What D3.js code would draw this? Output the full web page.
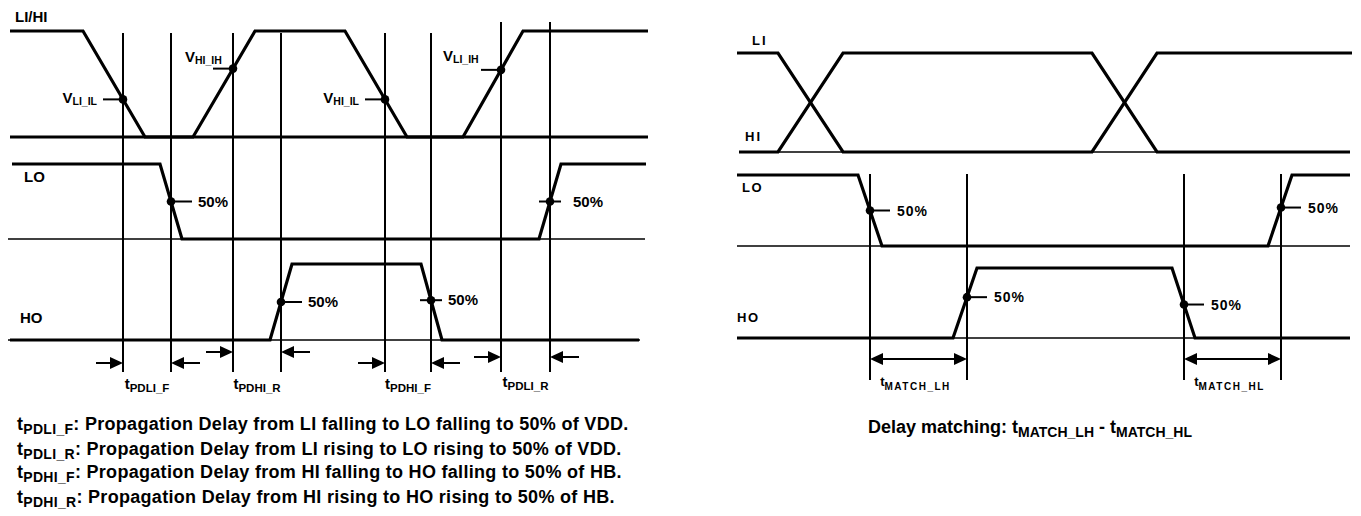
<!DOCTYPE html>
<html><head><meta charset="utf-8">
<script src="https://cdn.jsdelivr.net/npm/d3@7"></script>
<style>
body{margin:0;background:#fff}
svg{display:block;background:#fff}
text{font-family:"Liberation Sans",Arial,Helvetica,sans-serif;font-weight:bold;fill:#000}
</style></head>
<body><svg id="c" width="1361" height="516"></svg>
<script>
// ================= DATA =================
// Left diagram: propagation delay (time units, level 0 = low, 1 = high)
const leftTimeDomain = [0, 640];
const LI_left = [[2,1],[75,1],[137,0],[455,0],[515,1],[640,1]];
const HI_left = [[2,0],[185,0],[247,1],[337,1],[399,0],[640,0]];
const LO_left = [[4,1],[152,1],[174,0],[531,0],[553,1],[638,1]];
const HO_left = [[2,0],[262,0],[284,1],[413,1],[434,0],[631,0]];
const markerTimesLeft   = [115, 225, 377, 493, 163, 542, 273, 423];
const markerSignalsLeft = ["LI","HI","HI","LI","LO","LO","HO","HO"];
const markerLabelsLeft  = [["V","LI_IL"],["V","HI_IH"],["V","HI_IL"],["V","LI_IH"],["50%"],["50%"],["50%"],["50%"]];
const delayPairsLeft  = [[115,163],[225,273],[377,423],[493,542]];
const delaySubsLeft   = ["PDLI_F","PDHI_R","PDHI_F","PDLI_R"];
const legendSubs  = ["PDLI_F","PDLI_R","PDHI_F","PDHI_R"];
const legendTexts = [
  ": Propagation Delay from LI falling to LO falling to 50% of VDD.",
  ": Propagation Delay from LI rising to LO rising to 50% of VDD.",
  ": Propagation Delay from HI falling to HO falling to 50% of HB.",
  ": Propagation Delay from HI rising to HO rising to 50% of HB."
];

// Right diagram: delay matching
const rightTimeDomain = [0, 616];
const LI_right = [[1,1],[42,1],[107,0],[356,0],[421,1],[616,1]];
const HI_right = [[3,0],[42,0],[107,1],[356,1],[421,0],[614,0]];
const LO_right = [[1,1],[122,1],[146,0],[532,0],[556,1],[614,1]];
const HO_right = [[1,0],[217,0],[241,1],[436,1],[459,0],[614,0]];
const markerTimesRight   = [134, 545, 231, 448];
const markerSignalsRight = ["LO","LO","HO","HO"];
const matchPairsRight = [[134,231],[448,545]];
const matchSubsRight  = ["MATCH_LH","MATCH_HL"];
const captionRight = ["Delay matching: ", "MATCH_LH", " - ", "MATCH_HL"];

// ================= HELPERS =================
const svg = d3.select("#c");
function levelAt(w, t){
  for(let i=0;i<w.length-1;i++){
    const [t0,v0]=w[i],[t1,v1]=w[i+1];
    if(t>=t0 && t<=t1){ return t1===t0?v0:v0+(v1-v0)*(t-t0)/(t1-t0); }
  }
  return w[w.length-1][1];
}
function wave(g, w, x, y, width){
  g.append("path").datum(w)
    .attr("d", d3.line().x(d=>x(d[0])).y(d=>y(d[1])))
    .attr("fill","none").attr("stroke","#000").attr("stroke-width",width)
    .attr("stroke-linejoin","miter");
}
function hline(g,x1,x2,y,w){ g.append("line").attr("x1",x1).attr("x2",x2).attr("y1",y).attr("y2",y).attr("stroke","#000").attr("stroke-width",w); }
function vline(g,x,y1,y2,w){ g.append("line").attr("x1",x).attr("x2",x).attr("y1",y1).attr("y2",y2).attr("stroke","#000").attr("stroke-width",w); }
function head(g, x, y, dir){ // dir=+1 points right, -1 points left
  g.append("path").attr("d",`M${x},${y}L${x-dir*13},${y-6}L${x-dir*13},${y+6}Z`).attr("fill","#000");
}
function richText(g, x, y, parts, anchor){
  const t = g.append("text").attr("x",x).attr("y",y).attr("text-anchor",anchor||"start");
  parts.forEach(p=>{
    const ts=t.append("tspan").text(p.s).attr("font-size",p.size);
    if(p.dy) ts.attr("dy",p.dy);
    if(p.ls) ts.attr("letter-spacing",p.ls);
  });
  return t;
}

// ================= LEFT DIAGRAM =================
const L = svg.append("g");
const xL = d3.scaleLinear().domain(leftTimeDomain).range([8,648]);
const rowL = {
  LI: d3.scaleLinear().domain([0,1]).range([137,31]),
  HI: d3.scaleLinear().domain([0,1]).range([137,31]),
  LO: d3.scaleLinear().domain([0,1]).range([239,164]),
  HO: d3.scaleLinear().domain([0,1]).range([340,264])
};
const wavesL = {LI:LI_left, HI:HI_left, LO:LO_left, HO:HO_left};

const sortedL = markerTimesLeft.slice().sort((a,b)=>a-b);
sortedL.forEach((t,i)=>vline(L, xL(t), i>=6?22:33, 372, 2));
hline(L, xL(0), xL(637), rowL.LO(0), 1.5);
hline(L, xL(0), xL(632), rowL.HO(0), 1.5);
["LI","HI","LO","HO"].forEach(k=>wave(L, wavesL[k], xL, rowL[k], 3.2));

L.append("text").attr("x",15).attr("y",22).attr("font-size",15).text("LI/HI");
L.append("text").attr("x",24).attr("y",182).attr("font-size",15).text("LO");
L.append("text").attr("x",20).attr("y",323).attr("font-size",15).text("HO");

const markerLayoutL = [
  {tick:"left",  lx:-26, ly:4,  anchor:"end"},
  {tick:"left",  lx:-48, ly:-7, anchor:"start"},
  {tick:"left",  lx:-26, ly:4,  anchor:"end"},
  {tick:"left",  lx:-58, ly:-9, anchor:"start"},
  {tick:"right", lx:27,  ly:5,  anchor:"start"},
  {tick:"cross", lx:23,  ly:5,  anchor:"start"},
  {tick:"right", lx:27,  ly:5,  anchor:"start"},
  {tick:"cross", lx:17,  ly:5,  anchor:"start"}
];
markerTimesLeft.forEach((t,i)=>{
  const s = markerSignalsLeft[i], lay = markerLayoutL[i];
  const cx = xL(t), cy = rowL[s](levelAt(wavesL[s], t));
  if(lay.tick==="left") hline(L, cx-20, cx, cy, 2);
  else if(lay.tick==="right") hline(L, cx, cx+21, cy, 2);
  else hline(L, cx-11, cx+11, cy, 2);
  L.append("circle").attr("cx",cx).attr("cy",cy).attr("r",4.3).attr("fill","#000");
  const lab = markerLabelsLeft[i];
  if(lab.length===2) richText(L, cx+lay.lx, cy+lay.ly, [{s:lab[0],size:15},{s:lab[1],size:10.5,dy:2}], lay.anchor);
  else richText(L, cx+lay.lx, cy+lay.ly, [{s:lab[0],size:15}], lay.anchor);
});

const arrowYL = [363,352,363,357];
delayPairsLeft.forEach((p,i)=>{
  const a = xL(p[0]), b = xL(p[1]), y = arrowYL[i];
  hline(L, a-27, a-8, y, 2); head(L, a, y, 1);
  hline(L, b+8, b+29, y, 2); head(L, b, y, -1);
  richText(L, (a+b)/2, i===3?387:389, [{s:"t",size:15},{s:delaySubsLeft[i],size:11.5,dy:3}], "middle");
});

const legendY = [430,455,478,503];
legendTexts.forEach((txt,i)=>{
  richText(L, 17, legendY[i], [{s:"t",size:18,ls:0.3},{s:legendSubs[i],size:14,dy:4,ls:0.3},{s:txt,size:18,dy:-4,ls:0.3}], "start");
});

// ================= RIGHT DIAGRAM =================
const R = svg.append("g");
const xR = d3.scaleLinear().domain(rightTimeDomain).range([736,1352]);
const rowR = {
  LI: d3.scaleLinear().domain([0,1]).range([152,53]),
  HI: d3.scaleLinear().domain([0,1]).range([152,53]),
  LO: d3.scaleLinear().domain([0,1]).range([246,175]),
  HO: d3.scaleLinear().domain([0,1]).range([338,268])
};
const wavesR = {LI:LI_right, HI:HI_right, LO:LO_right, HO:HO_right};

markerTimesRight.forEach(t=>vline(R, xR(t), 174, 380, 2));
hline(R, xR(3), xR(614), rowR.LI(0), 1.5);
hline(R, xR(1), xR(614), rowR.LO(0), 1.5);
hline(R, xR(1), xR(614), rowR.HO(0), 1.5);
["LI","HI","LO","HO"].forEach(k=>wave(R, wavesR[k], xR, rowR[k], 3.2));

R.append("text").attr("x",752).attr("y",45).attr("font-size",13).attr("letter-spacing",2).text("LI");
R.append("text").attr("x",745).attr("y",141).attr("font-size",13).attr("letter-spacing",2).text("HI");
R.append("text").attr("x",742).attr("y",192).attr("font-size",13).attr("letter-spacing",1.5).text("LO");
R.append("text").attr("x",737).attr("y",322).attr("font-size",13).attr("letter-spacing",1.5).text("HO");

markerTimesRight.forEach((t,i)=>{
  const s = markerSignalsRight[i];
  const cx = xR(t), cy = rowR[s](levelAt(wavesR[s], t));
  hline(R, cx, cx+20, cy, 2);
  R.append("circle").attr("cx",cx).attr("cy",cy).attr("r",4.3).attr("fill","#000");
  R.append("text").attr("x",cx+27).attr("y",cy+5).attr("font-size",14).attr("letter-spacing",1).text("50%");
});

matchPairsRight.forEach((p,i)=>{
  const a = xR(p[0]), b = xR(p[1]), y = 359;
  hline(R, a+8, b-8, y, 2); head(R, a, y, -1); head(R, b, y, 1);
  richText(R, (a+b)/2-3, 386, [{s:"t",size:13},{s:matchSubsRight[i],size:10,dy:4,ls:1.5}], "middle");
});

richText(R, 868, 433, [
  {s:captionRight[0],size:18},
  {s:"t",size:18},{s:captionRight[1],size:14,dy:4},
  {s:captionRight[2],size:18,dy:-4},
  {s:"t",size:18},{s:captionRight[3],size:14,dy:4}
], "start");
</script></body></html>
